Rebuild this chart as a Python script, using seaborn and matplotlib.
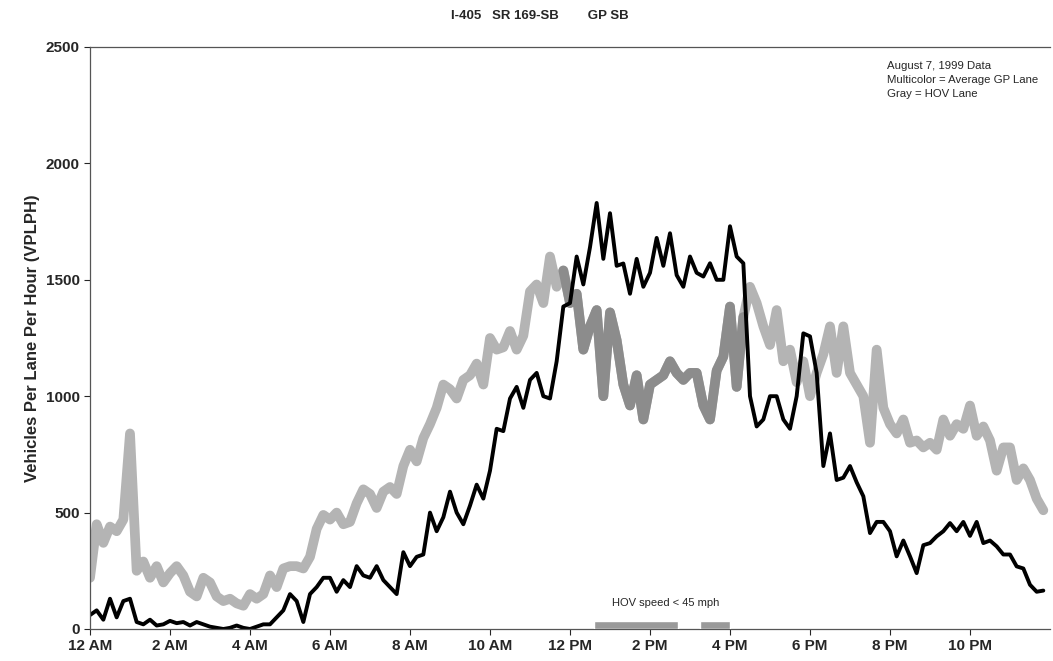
import numpy as np
import pandas as pd
import matplotlib.pyplot as plt
import seaborn as sns

# 10 minute steps, 12 AM .. 11:50 PM
hours = np.arange(144) / 6

# gray = HOV lane
hov_lane = [220, 450, 370, 440, 420, 470, 840, 250, 290, 220, 270, 200,
            240, 270, 230, 160, 140, 220, 200, 140, 120, 130, 110, 100,
            150, 130, 150, 230, 180, 260, 270, 270, 260, 310, 430, 490,
            470, 500, 450, 460, 540, 600, 580, 520, 590, 610, 580, 700,
            770, 720, 820, 880, 950, 1050, 1030, 990, 1070, 1090, 1140, 1050,
            1250, 1200, 1210, 1280, 1200, 1260, 1450, 1480, 1400, 1600, 1470, 1540,
            1400, 1440, 1200, 1300, 1370, 1000, 1360, 1240, 1050, 960, 1090, 900,
            1050, 1070, 1090, 1150, 1100, 1070, 1100, 1100, 960, 900, 1110, 1170,
            1385, 1040, 1340, 1470, 1400, 1300, 1220, 1370, 1150, 1200, 1060, 1150,
            1000, 1100, 1180, 1300, 1100, 1300, 1100, 1050, 1000, 800, 1200, 950,
            880, 840, 900, 800, 810, 780, 800, 770, 900, 830, 880, 860,
            960, 830, 870, 810, 680, 780, 780, 640, 690, 640, 560, 510]

# black = average GP lane
gp_lane = [60, 80, 40, 130, 50, 120, 130, 30, 20, 40, 15, 20,
           35, 25, 30, 15, 30, 20, 10, 5, 0, 5, 15, 5,
           0, 10, 20, 20, 50, 80, 150, 120, 30, 150, 180, 220,
           220, 160, 210, 180, 270, 230, 220, 270, 210, 180, 150, 330,
           270, 310, 320, 500, 420, 480, 590, 500, 450, 530, 620, 560,
           680, 860, 850, 990, 1040, 950, 1070, 1100, 1000, 990, 1150, 1385,
           1400, 1600, 1480, 1640, 1830, 1590, 1786, 1560, 1570, 1440, 1590, 1470,
           1530, 1680, 1560, 1700, 1520, 1470, 1600, 1530, 1514, 1571, 1500, 1500,
           1730, 1600, 1571, 1000, 870, 900, 1000, 1000, 900, 860, 1000, 1270,
           1257, 1100, 700, 840, 640, 650, 700, 630, 570, 412, 460, 460,
           420, 312, 380, 312, 240, 360, 369, 398, 420, 455, 420, 460,
           400, 460, 369, 380, 355, 320, 320, 269, 260, 190, 160, 165]

tick_hours = [0, 2, 4, 6, 8, 10, 12, 14, 16, 18, 20, 22]
tick_labels = ['12 AM', '2 AM', '4 AM', '6 AM', '8 AM', '10 AM',
               '12 PM', '2 PM', '4 PM', '6 PM', '8 PM', '10 PM']

# periods with HOV speed < 45 mph (hours)
slow_start = [12.6, 15.25]
slow_end = [14.7, 16.0]

# part of the gray line drawn darker
dark_from, dark_to = 71, 99

sns.set_style('white')
plt.rcParams['font.family'] = ['Liberation Sans', 'DejaVu Sans']

df = pd.DataFrame({'hour': hours, 'hov': hov_lane, 'gp': gp_lane})

fig = plt.figure(figsize=(10.53, 6.61), dpi=100)
ax = fig.add_axes([90 / 1053, 32 / 661, 960 / 1053, 582 / 661])

sns.lineplot(data=df, x='hour', y='hov', color='#b4b4b4', lw=7, ax=ax)
sns.lineplot(data=df.iloc[dark_from:dark_to], x='hour', y='hov',
             color='#8c8c8c', lw=7, ax=ax)
sns.lineplot(data=df, x='hour', y='gp', color='black', lw=2.8, ax=ax)

for s, e in zip(slow_start, slow_end):
    ax.bar(s, 36, width=e - s, align='edge', color='#9a9a9a', zorder=3)

ax.text(14.4, 90, 'HOV speed < 45 mph', ha='center', va='bottom', fontsize=8)

ax.set_xlim(0, 24)
ax.set_ylim(0, 2500)
ax.set_xticks(tick_hours)
ax.set_xticklabels(tick_labels)
ax.set_yticks(range(0, 2501, 500))
ax.tick_params(bottom=True, left=True, length=4, labelsize=11)
for lab in ax.get_yticklabels() + ax.get_xticklabels():
    lab.set_fontweight('bold')
ax.set_xlabel('')
ax.set_ylabel('Vehicles Per Lane Per Hour (VPLPH)', fontweight='bold',
              fontsize=12, labelpad=4)
ax.spines['right'].set_visible(False)
for side in ['left', 'top', 'bottom']:
    ax.spines[side].set_color('#555555')
    ax.spines[side].set_linewidth(0.9)

fig.text(0.513, 0.985, 'I-405   SR 169-SB        GP SB', ha='center',
         va='top', fontweight='bold', fontsize=9.5)
fig.text(887 / 1053, 1 - 61 / 661,
         'August 7, 1999 Data\nMulticolor = Average GP Lane\nGray = HOV Lane',
         ha='left', va='top', fontsize=8.2, linespacing=1.5)

fig.savefig('out.png', dpi=100)
